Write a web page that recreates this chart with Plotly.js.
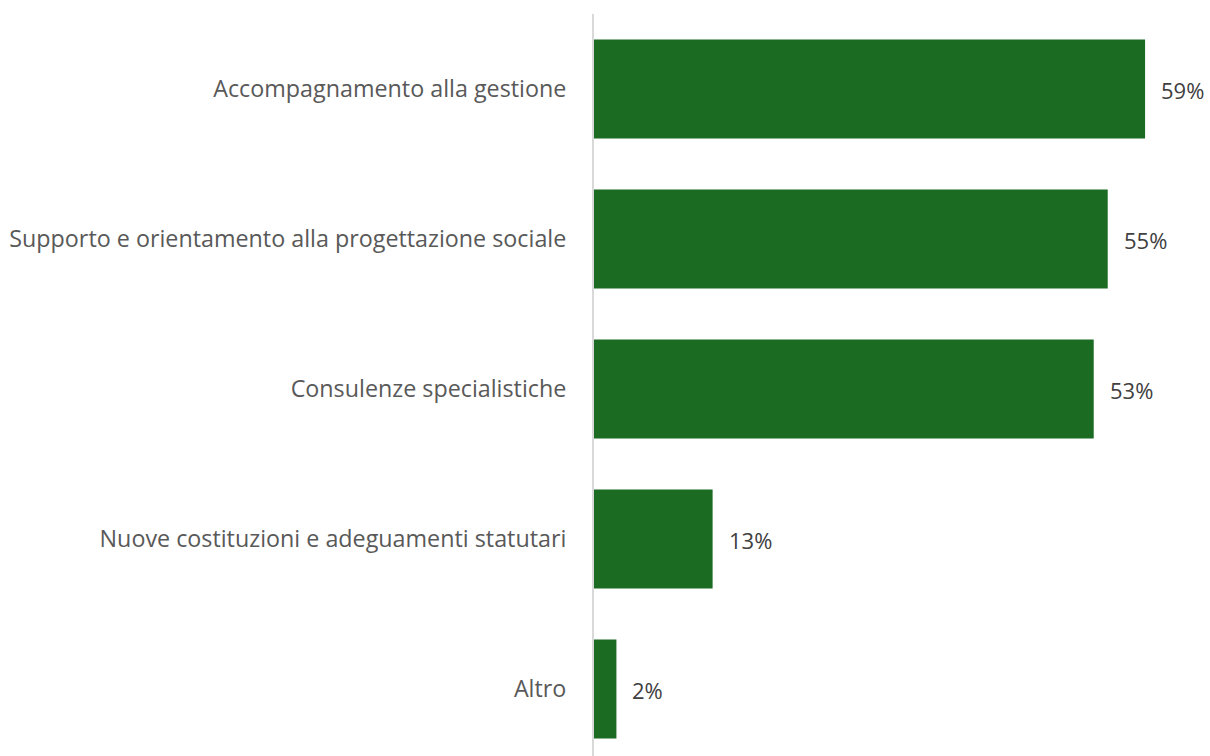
<!DOCTYPE html>
<html><head><meta charset="utf-8">
<script src="https://cdn.plot.ly/plotly-3.0.1.min.js"></script>
<style>html,body{margin:0;padding:0;background:#fff;overflow:hidden}#chart{width:1210px;height:756px}</style>
</head><body><div id="chart"></div>
<script>
const categories = [
  "Accompagnamento alla gestione",
  "Supporto e orientamento alla progettazione sociale",
  "Consulenze specialistiche",
  "Nuove costituzioni e adeguamenti statutari",
  "Altro"
];
const values = [59, 55, 53.5, 12.7, 2.4];
const valueLabels = ["59%", "55%", "53%", "13%", "2%"];

const trace = {
  type: "bar",
  orientation: "h",
  y: categories,
  x: values,
  marker: {color: "#1b6b23"},
  width: 0.66,
  hoverinfo: "none"
};

const annotations = values.map((v, i) => ({
  x: v, y: categories[i], xref: "x", yref: "y",
  text: valueLabels[i], showarrow: false,
  xanchor: "left", xshift: 14, yshift: -1,
  font: {family: "'Open Sans', sans-serif", size: 22, color: "#404040"}
}));

const layout = {
  width: 1210, height: 756,
  margin: {l: 594, r: 0, t: 14, b: 0},
  paper_bgcolor: "#fff", plot_bgcolor: "#fff",
  showlegend: false,
  bargap: 0.34,
  xaxis: {range: [0, 65.95], visible: false, fixedrange: true},
  yaxis: {
    type: "category",
    categoryorder: "array", categoryarray: categories,
    range: [4.447, -0.5],
    showline: true, linecolor: "#d9d9d9", linewidth: 2,
    showgrid: false, zeroline: false,
    ticks: "", ticklabelstandoff: 21,
    tickfont: {family: "'Open Sans', sans-serif", size: 23.3, color: "#595959"}
  },
  annotations: annotations
};

Plotly.newPlot("chart", [trace], layout, {displayModeBar: false, staticPlot: true});
</script>
</body></html>
